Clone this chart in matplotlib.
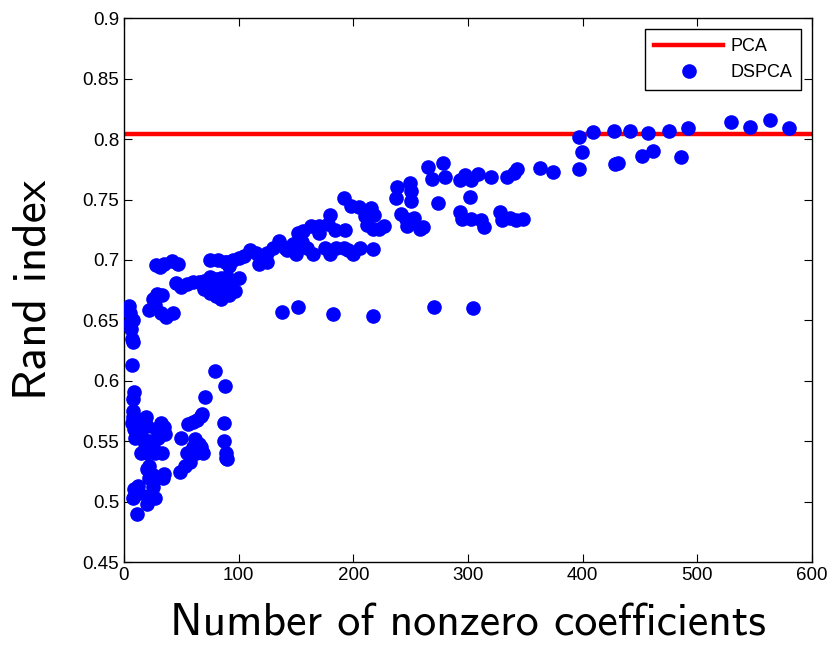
import matplotlib
matplotlib.use("Agg")
import matplotlib.pyplot as plt
import numpy as np

pca_value = 0.804

dspca_x = [
    # outliers row ~0.66
    138, 152, 182, 217, 270, 304,
    # upper right
    397, 409, 427, 441, 457, 475, 492, 529, 546, 563, 580,
    399, 397, 428, 431, 452, 461, 486,
    # 260-375
    363, 374, 343, 340, 334, 320, 309, 303, 297, 293, 280, 278, 265, 269, 274, 302,
    328, 330, 337, 342, 348, 293, 295, 303, 311, 314,
    238, 249, 250, 237, 250, 242, 246, 253, 247, 258, 261,
    192, 198, 205, 215, 210, 218, 212, 217, 222, 227, 180, 178,
    184, 193, 170, 163, 156, 152, 170,
    # 0.71 row
    200, 206, 217, 192, 180, 175, 165, 160, 150, 140, 135, 130, 125, 120, 115, 110,
    105, 100, 95, 90, 147, 155, 142, 185, 195, 118, 125,
    # 0.68 row
    45, 50, 55, 60, 65, 70, 75, 80, 85, 90, 78, 85, 93, 100, 97, 88, 80, 75, 70, 92, 85,
    75, 82, 88, 92,
    # 0.695 cluster
    28, 31, 35, 42, 47,
    25, 29, 33, 27, 22, 32, 37, 43,
    # left column
    4, 5, 5, 6, 8, 7, 8, 7,
    # lower cluster
    9, 8, 8, 8, 7, 9, 10, 12, 14, 15, 12, 10, 17, 19, 20, 16, 18, 22, 25, 20, 15, 27,
    33, 30, 28, 35, 32, 36,
    22, 25, 22, 20, 35, 34, 25, 22, 27, 20, 12, 9, 13, 8, 11,
    # middle group
    50, 49, 53, 58, 63, 55, 60, 65, 67, 69, 62, 56, 60, 64, 67, 68, 71, 79, 88, 87, 87,
    89, 89, 90,
]

dspca_y = [
    0.657, 0.661, 0.655, 0.654, 0.661, 0.660,
    0.802, 0.806, 0.807, 0.807, 0.805, 0.807, 0.809, 0.814, 0.810, 0.816, 0.809,
    0.789, 0.775, 0.779, 0.780, 0.786, 0.790, 0.785,
    0.776, 0.773, 0.775, 0.772, 0.769, 0.769, 0.771, 0.766, 0.770, 0.766, 0.769, 0.780,
    0.777, 0.767, 0.747, 0.752,
    0.740, 0.733, 0.735, 0.733, 0.734, 0.740, 0.734, 0.734, 0.733, 0.727,
    0.760, 0.764, 0.757, 0.751, 0.749, 0.738, 0.734, 0.735, 0.728, 0.726, 0.727,
    0.751, 0.745, 0.744, 0.743, 0.736, 0.737, 0.729, 0.726, 0.726, 0.728, 0.737, 0.730,
    0.725, 0.725, 0.728, 0.728, 0.724, 0.722, 0.722,
    0.705, 0.710, 0.709, 0.710, 0.705, 0.710, 0.705, 0.710, 0.705, 0.710, 0.716, 0.710,
    0.706, 0.700, 0.706, 0.708, 0.703, 0.702, 0.700, 0.698, 0.713, 0.715, 0.708, 0.710,
    0.708, 0.697, 0.698,
    0.681, 0.678, 0.680, 0.682, 0.682, 0.683, 0.686, 0.684, 0.685, 0.686, 0.678, 0.677,
    0.683, 0.685, 0.674, 0.673, 0.670, 0.673, 0.676, 0.671, 0.668,
    0.700, 0.700, 0.698, 0.695,
    0.696, 0.694, 0.697, 0.699, 0.697,
    0.668, 0.672, 0.671, 0.663, 0.659, 0.656, 0.653, 0.656,
    0.662, 0.656, 0.648, 0.643, 0.650, 0.635, 0.632, 0.613,
    0.591, 0.585, 0.575, 0.570, 0.565, 0.560, 0.567, 0.565, 0.568, 0.560, 0.555, 0.553,
    0.562, 0.570, 0.563, 0.553, 0.548, 0.550, 0.545, 0.540, 0.540, 0.540,
    0.540, 0.553, 0.560, 0.562, 0.565, 0.556,
    0.530, 0.522, 0.520, 0.527, 0.523, 0.520, 0.512, 0.505, 0.503, 0.498, 0.513, 0.511,
    0.507, 0.503, 0.490,
    0.553, 0.525, 0.530, 0.533, 0.540, 0.540, 0.545, 0.548, 0.545, 0.540, 0.552, 0.564,
    0.566, 0.568, 0.571, 0.573, 0.587, 0.608, 0.596, 0.565, 0.550,
    0.540, 0.536, 0.535,
]

x_ticks = [0, 100, 200, 300, 400, 500, 600]
y_ticks = [0.45, 0.5, 0.55, 0.6, 0.65, 0.7, 0.75, 0.8, 0.85, 0.9]
y_ticklabels = ["0.45", "0.5", "0.55", "0.6", "0.65", "0.7", "0.75", "0.8", "0.85", "0.9"]

fig = plt.figure(figsize=(8.32, 6.5), dpi=100)
ax = fig.add_axes([0.149, 0.135, 0.827, 0.837])

ax.axhline(pca_value, color="#ff0000", linewidth=3.2, label="PCA", zorder=2)
ax.plot(dspca_x, dspca_y, linestyle="none", marker="o", markersize=9.5,
        color="#0000ff", markeredgecolor="#0000ff", label="DSPCA", zorder=3)

ax.set_xlim(0, 600)
ax.set_ylim(0.45, 0.9)
ax.set_xticks(x_ticks)
ax.set_yticks(y_ticks)
ax.set_yticklabels(y_ticklabels)
ax.tick_params(direction="in", top=True, right=True, length=6, width=0.8,
               labelsize=13.5)
for lab in ax.get_xticklabels() + ax.get_yticklabels():
    lab.set_fontfamily("Liberation Sans")
for s in ax.spines.values():
    s.set_linewidth(1.0)

ax.set_xlabel("Number of nonzero coefficients", fontsize=33, family="cmss10",
              labelpad=14)
ax.set_ylabel("Rand index", fontsize=34, family="cmss10", labelpad=20)

leg = ax.legend(loc="upper right", fancybox=False, framealpha=1,
                edgecolor="black", borderaxespad=0.6, handlelength=3.8,
                handletextpad=0.4, borderpad=0.5,
                prop={"family": "Liberation Sans", "size": 13})
leg.get_frame().set_linewidth(1.0)

fig.savefig("out.png", dpi=100)
